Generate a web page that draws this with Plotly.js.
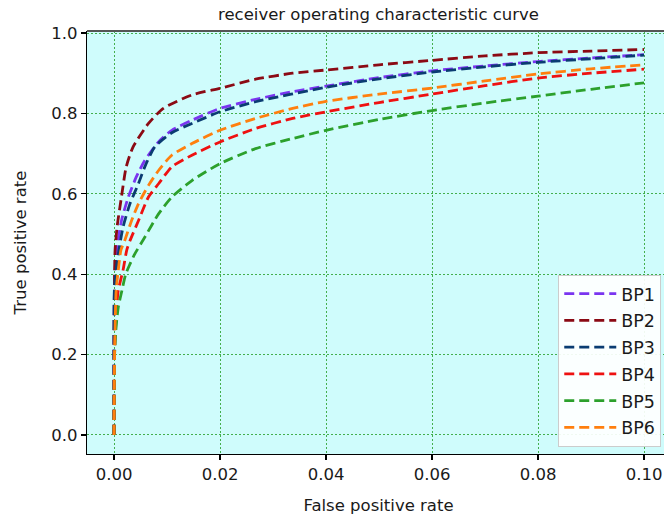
<!DOCTYPE html>
<html>
<head>
<meta charset="utf-8">
<script src="https://cdn.plot.ly/plotly-3.0.1.min.js"></script>
<style>
html,body{margin:0;padding:0;overflow:hidden;background:#fff;}
#chart{width:680px;height:515px;}
</style>
</head>
<body>
<div id="chart"></div>
<script>
// ---- data ----
const seriesNames = ["BP1", "BP2", "BP3", "BP4", "BP5", "BP6"];
const seriesColors = ["#7a35f0", "#8b0a14", "#0a3c72", "#ee1111", "#2ca02c", "#ff7f0e"];

const fprBP1 = [0, 0, 0.0001, 0.0004, 0.0014, 0.0027, 0.0042, 0.0058, 0.0084, 0.0109, 0.0147, 0.02, 0.0267, 0.0337, 0.04, 0.05, 0.06, 0.07, 0.08, 0.09, 0.1];
const tprBP1 = [0, 0.25, 0.38, 0.45, 0.533, 0.592, 0.642, 0.683, 0.729, 0.758, 0.783, 0.8125, 0.835, 0.854, 0.868, 0.889, 0.906, 0.918, 0.929, 0.938, 0.946];

const fprBP2 = [0, 0, 0.0001, 0.0002, 0.0006, 0.0014, 0.0023, 0.0036, 0.0065, 0.0093, 0.0147, 0.02, 0.0267, 0.0337, 0.04, 0.05, 0.06, 0.07, 0.08, 0.09, 0.1];
const tprBP2 = [0, 0.25, 0.40, 0.46, 0.52, 0.592, 0.667, 0.717, 0.775, 0.8125, 0.846, 0.8625, 0.885, 0.90, 0.908, 0.921, 0.932, 0.943, 0.951, 0.955, 0.959];

const fprBP3 = [0, 0, 0.0001, 0.0006, 0.0017, 0.003, 0.0046, 0.0058, 0.0077, 0.0109, 0.0147, 0.02, 0.0267, 0.04, 0.05, 0.06, 0.07, 0.08, 0.09, 0.1];
const tprBP3 = [0, 0.25, 0.37, 0.433, 0.517, 0.575, 0.625, 0.667, 0.717, 0.752, 0.775, 0.804, 0.829, 0.865, 0.886, 0.903, 0.916, 0.927, 0.936, 0.945];

const fprBP4 = [0, 0.0001, 0.0005, 0.0008, 0.0017, 0.0024, 0.003, 0.0046, 0.0065, 0.0084, 0.0109, 0.0147, 0.02, 0.0267, 0.0337, 0.04, 0.05, 0.06, 0.07, 0.08, 0.09, 0.1];
const tprBP4 = [0, 0.2, 0.318, 0.36, 0.41, 0.46, 0.483, 0.533, 0.592, 0.625, 0.667, 0.696, 0.729, 0.7625, 0.7875, 0.804, 0.827, 0.848, 0.869, 0.888, 0.900, 0.91];

const fprBP5 = [0, 0.0001, 0.0004, 0.0008, 0.0015, 0.0022, 0.003, 0.0039, 0.0058, 0.0084, 0.0109, 0.0147, 0.02, 0.0267, 0.0337, 0.04, 0.05, 0.06, 0.07, 0.08, 0.09, 0.1];
const tprBP5 = [0, 0.2, 0.27, 0.318, 0.36, 0.40, 0.425, 0.45, 0.492, 0.55, 0.592, 0.633, 0.675, 0.7125, 0.7375, 0.758, 0.785, 0.807, 0.826, 0.843, 0.86, 0.876];

const fprBP6 = [0, 0.0001, 0.0004, 0.0008, 0.0013, 0.002, 0.0033, 0.0046, 0.0065, 0.0084, 0.0109, 0.0147, 0.02, 0.0267, 0.0337, 0.04, 0.05, 0.06, 0.07, 0.08, 0.09, 0.1];
const tprBP6 = [0, 0.2, 0.36, 0.41, 0.46, 0.483, 0.533, 0.575, 0.621, 0.658, 0.696, 0.725, 0.758, 0.7875, 0.8125, 0.830, 0.848, 0.863, 0.881, 0.898, 0.911, 0.921];

const xTickVals = [0, 0.02, 0.04, 0.06, 0.08, 0.10];
const xTickText = ["0.00", "0.02", "0.04", "0.06", "0.08", "0.10"];
const yTickVals = [0, 0.2, 0.4, 0.6, 0.8, 1.0];
const yTickText = ["0.0", "0.2", "0.4", "0.6", "0.8", "1.0"];

const titleText = "receiver operating characteristic curve";
const xTitle = "False positive rate";
const yTitle = "True positive rate";

// ---- build traces ----
const xs = [fprBP1, fprBP2, fprBP3, fprBP4, fprBP5, fprBP6];
const ys = [tprBP1, tprBP2, tprBP3, tprBP4, tprBP5, tprBP6];
const traces = seriesNames.map((n, i) => ({
  type: "scatter",
  mode: "lines",
  name: n,
  legendgroup: n,
  x: xs[i],
  y: ys[i],
  line: {color: seriesColors[i], width: 2.8, dash: "10px,5px", shape: "spline", smoothing: 0.6}
}));

const FONT = "DejaVu Sans, sans-serif";
const layout = {
  width: 680,
  height: 515,
  margin: {l: 87, r: 10, t: 31, b: 61},
  paper_bgcolor: "#ffffff",
  plot_bgcolor: "#cffcfc",
  font: {family: FONT, size: 16, color: "#1a1a1a"},
  title: {
    text: titleText,
    font: {family: FONT, size: 16.5, color: "#1a1a1a"},
    xref: "paper", x: 0.5, xanchor: "center",
    yref: "container", y: 1 - 14 / 515, yanchor: "middle"
  },
  xaxis: {
    range: [-0.0051, 0.1049],
    tickvals: xTickVals,
    ticktext: xTickText,
    ticks: "outside", ticklen: 5, tickwidth: 1.2, tickcolor: "#000",
    tickfont: {family: FONT, size: 16.5, color: "#1a1a1a"},
    showline: true, linecolor: "#000", linewidth: 1.2,
    showgrid: true, gridcolor: "rgba(20,150,20,0.75)", gridwidth: 1, griddash: "2px,2px",
    zeroline: false,
    title: {text: xTitle, font: {family: FONT, size: 16.5, color: "#1a1a1a"}, standoff: 18}
  },
  yaxis: {
    range: [-0.0473, 1.005],
    tickvals: yTickVals,
    ticktext: yTickText,
    ticks: "outside", ticklen: 5, tickwidth: 1.2, tickcolor: "#000",
    tickfont: {family: FONT, size: 16.5, color: "#1a1a1a"},
    showline: true, linecolor: "#000", linewidth: 1.2,
    showgrid: true, gridcolor: "rgba(20,150,20,0.75)", gridwidth: 1, griddash: "2px,2px",
    zeroline: false,
    title: {text: yTitle, font: {family: FONT, size: 16.5, color: "#1a1a1a"}, standoff: 20}
  },
  shapes: [
    {type: "line", xref: "paper", yref: "paper", x0: 0, x1: 1, y0: 1, y1: 1,
     line: {color: "#555", width: 2}}
  ],
  showlegend: true,
  legend: {
    x: 0.985, xanchor: "right",
    y: 0.017, yanchor: "bottom",
    bgcolor: "rgba(255,255,255,0.92)",
    bordercolor: "#cccccc", borderwidth: 1,
    font: {family: FONT, size: 17.5, color: "#1a1a1a"},
    traceorder: "grouped",
    tracegroupgap: 1,
    itemwidth: 52
  }
};

Plotly.newPlot("chart", traces, layout, {displayModeBar: false, staticPlot: true});
</script>
</body>
</html>
